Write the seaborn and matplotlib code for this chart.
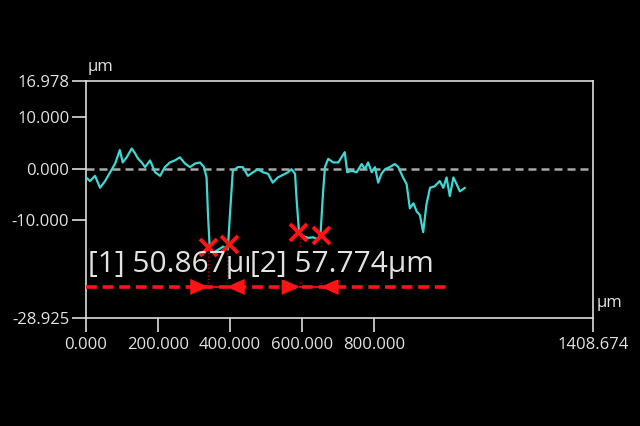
import matplotlib
matplotlib.use("Agg")
import matplotlib.pyplot as plt
import numpy as np
import pandas as pd
import seaborn as sns

# profile trace (µm)
profile_x = [0, 11, 25, 39, 53, 67, 81, 94, 102, 113, 127, 136, 144, 155, 164, 178, 192, 206,
             219, 233, 247, 261, 275, 289, 303, 317, 328, 335, 339, 344, 353, 367, 381, 394,
             400, 408, 422, 436, 450, 464, 478, 492, 506, 519, 533, 553, 561, 571, 581, 585,
             592, 604, 618, 631, 645, 652, 659, 664, 673, 687, 701, 710, 719, 726, 738, 752,
             766, 775, 784, 794, 803, 812, 821, 831, 844, 858, 868, 881, 891, 900, 910, 919,
             928, 937, 946, 956, 969, 983, 993, 1002, 1011, 1021, 1030, 1039, 1053]
profile_y = [-1.7, -2.4, -1.4, -3.7, -2.4, -0.7, 1.0, 3.6, 1.2, 2.2, 3.9, 3.0, 2.0, 1.2, 0.3,
             1.6, -0.7, -1.4, 0.3, 1.2, 1.6, 2.2, 1.0, 0.3, 1.0, 1.2, 0.3, -1.7, -8.9, -15.6,
             -16.3, -15.7, -15.1, -15.7, -8.9, -0.4, 0.3, 0.3, -1.4, -0.7, -0.1, -0.7, -1.0,
             -2.7, -1.7, -1.0, -0.7, -0.1, -1.0, -5.7, -12.3, -13.1, -13.4, -13.3, -13.7, -12.3,
             -4.4, 0.3, 1.9, 1.2, 1.2, 2.2, 3.2, -0.7, -0.4, -0.7, 0.9, -0.1, 1.2, -0.7, 0.3,
             -2.7, -1.0, -0.1, 0.3, 0.9, 0.3, -1.7, -3.0, -7.7, -6.7, -8.3, -9.0, -12.3, -7.0,
             -3.7, -3.4, -2.4, -3.7, -1.7, -5.3, -1.7, -3.0, -4.4, -3.7]

# measurement points (red crosses) and width dimensions
mark_x = [340, 398, 589, 652]
mark_y = [-15.1, -14.6, -12.3, -12.8]
meas_start = [340, 594]
meas_end = [391, 652]
meas_labels = ["[1] 50.867µm", "[2] 57.774µm"]
label_x = [5.5, 455]
label_y = -20.0
dim_line_x = [0, 1005]
dim_line_y = -22.9

x_ticks = [0, 200, 400, 600, 800, 1408.674]
y_ticks = [16.978, 10, 0, -10, -28.925]

RED = "#ff1414"
FG = "#e2e2e2"

sns.set_theme(style="dark", rc={"axes.facecolor": "black", "figure.facecolor": "black"})
plt.rcParams["font.family"] = ["Open Sans", "DejaVu Sans"]

fig = plt.figure(figsize=(6.4, 4.26), dpi=100)
ax = fig.add_axes([0.1344, 0.2535, 0.792, 0.5563])

ax.axhline(0, color="#a8a8a8", lw=1.8, dashes=(3.2, 2.0), zorder=2)

df = pd.DataFrame({"x": profile_x, "y": profile_y})
sns.lineplot(data=df, x="x", y="y", ax=ax, color="#3ed8d2", lw=1.6, zorder=3, sort=False)

# dimension line
ax.plot(dim_line_x, [dim_line_y] * 2, color=RED, lw=2.6, dashes=(3.0, 1.6), zorder=4)
for i, (s, e) in enumerate(zip(meas_start, meas_end)):
    ax.plot([s, e], [dim_line_y] * 2, color=RED, lw=1.2, zorder=5)
    ys = mark_y[2 * i:2 * i + 2]
    ax.vlines([s, e], dim_line_y, ys, color="#b00000", lw=1.0, linestyles=":", zorder=4)
    for tip, off in ((s, -13), (e, 13)):
        ax.annotate("", xy=(tip, dim_line_y), xytext=(off, 0), textcoords="offset points",
                    arrowprops=dict(arrowstyle="-|>,head_length=1.3,head_width=0.58",
                                    color=RED, lw=0.01, shrinkA=0, shrinkB=0,
                                    mutation_scale=10), zorder=5)

sns.scatterplot(x=mark_x, y=mark_y, ax=ax, marker="x", s=150, color=RED, linewidth=2.8, zorder=6)

ax.text(label_x[0], label_y, meas_labels[0], fontsize=21.5, color=FG, va="baseline", zorder=7)
ax.text(label_x[1], label_y, meas_labels[1], fontsize=21.5, color=FG, va="baseline", zorder=8,
        bbox=dict(facecolor="black", edgecolor="none", pad=0.5))

ax.set_xlim(0, 1408.674)
ax.set_ylim(-28.925, 16.978)
ax.set_xticks(x_ticks)
ax.set_xticklabels([f"{v:.3f}" for v in x_ticks])
ax.set_yticks(y_ticks)
ax.set_yticklabels([f"{v:.3f}" for v in y_ticks])
ax.set_xlabel("")
ax.set_ylabel("")
ax.grid(False)
for sp in ax.spines.values():
    sp.set_visible(True)
    sp.set_color("#dcdcdc")
    sp.set_linewidth(1.2)
ax.tick_params(axis="both", colors="#dcdcdc", labelcolor=FG, length=10, width=1.2,
               labelsize=12, direction="out", bottom=True, left=True)
ax.tick_params(axis="x", pad=4)
ax.tick_params(axis="y", pad=2)

fig.text(88 / 640, 1 - 67 / 426, "µm", fontsize=12, color=FG, va="center")
fig.text(597 / 640, 1 - 303 / 426, "µm", fontsize=12, color=FG, va="center")

fig.savefig("out.png", dpi=100, facecolor="black")
